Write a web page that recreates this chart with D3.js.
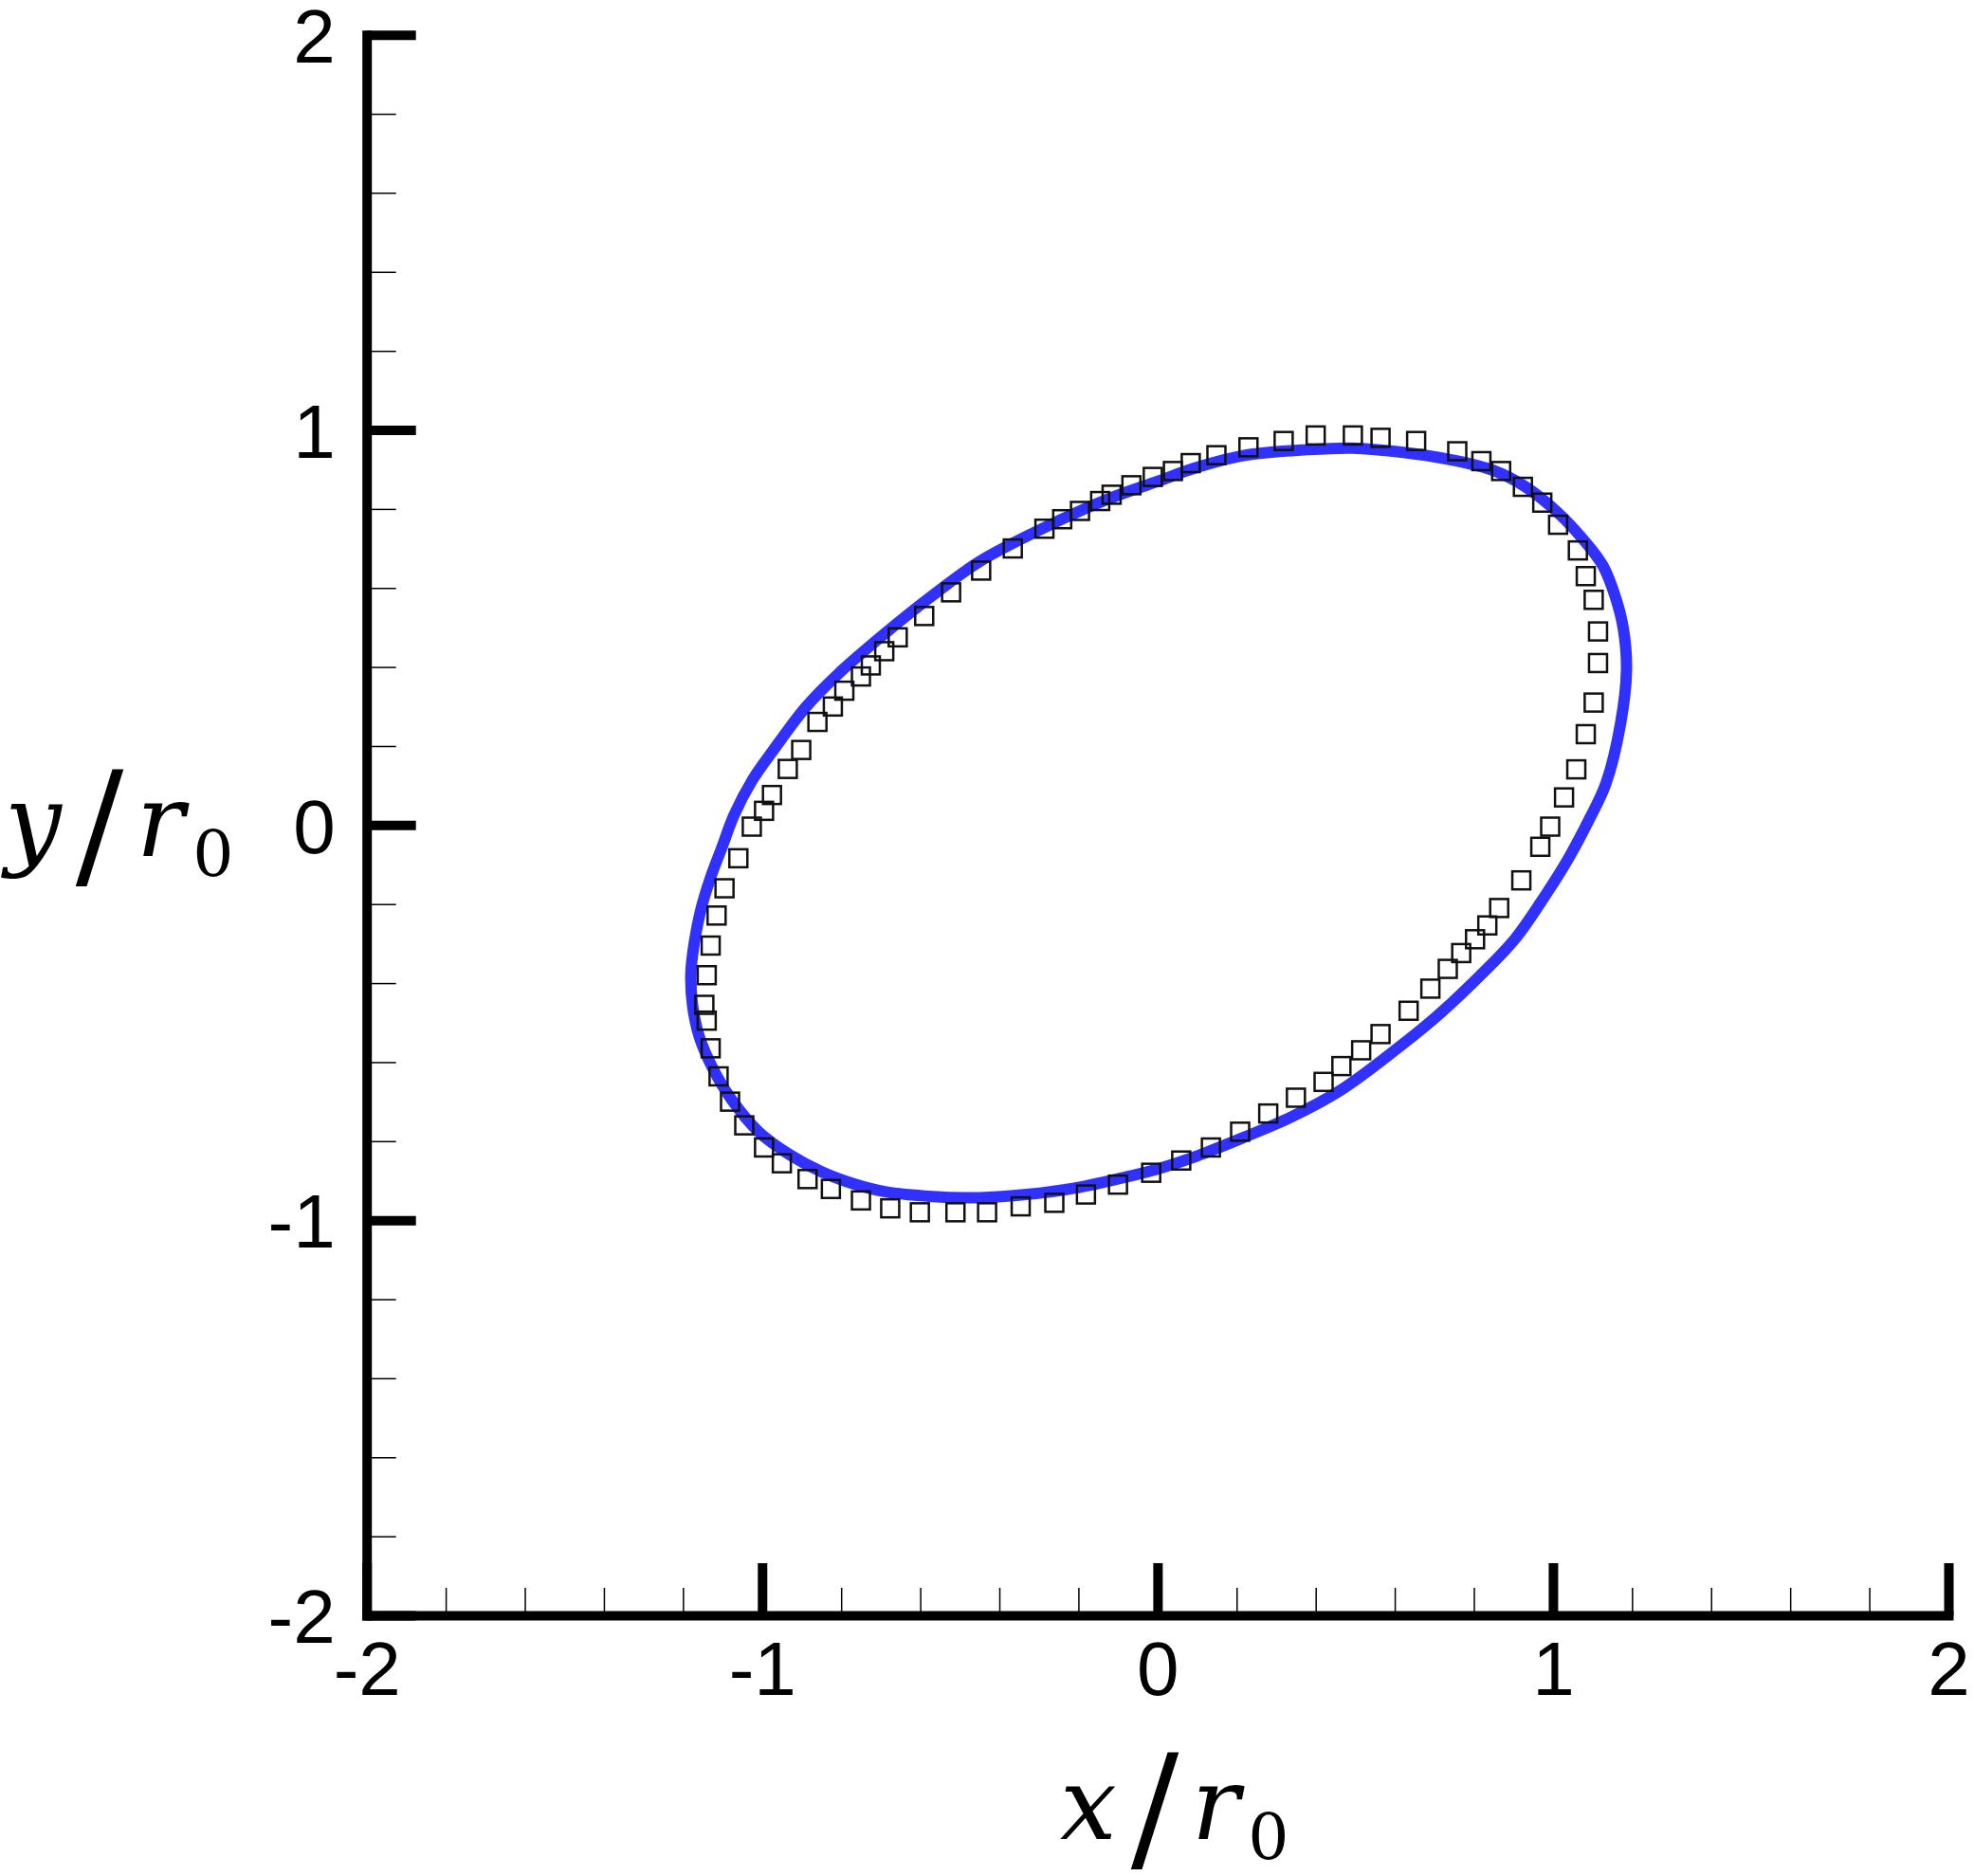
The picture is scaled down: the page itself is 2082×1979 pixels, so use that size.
<!DOCTYPE html>
<html>
<head>
<meta charset="utf-8">
<script src="https://cdn.jsdelivr.net/npm/d3@7"></script>
<style>
  body { margin: 0; background: #fff; }
  svg { display: block; }
</style>
</head>
<body>
<svg class="graph-container" width="2082" height="1979"></svg>
<script>
// blue curve (computed interface), in x/r0 , y/r0
var curveX = [-0.002,-0.130,-0.290,-0.450,-0.570,-0.689,-0.809,-0.889,-0.969,-1.025,-1.071,-1.101,-1.131,-1.155,-1.171,-1.180,-1.176,-1.159,-1.125,-1.077,-1.009,-0.929,-0.849,-0.769,-0.689,-0.570,-0.450,-0.330,-0.210,-0.090,-0.002,0.096,0.217,0.338,0.460,0.581,0.703,0.824,0.905,0.980,1.040,1.093,1.134,1.171,1.186,1.178,1.158,1.126,1.078,1.010,0.929,0.853,0.749,0.622,0.492,0.378,0.217,0.096];
var curveY = [0.869,0.823,0.751,0.667,0.580,0.485,0.381,0.299,0.193,0.113,0.025,-0.055,-0.135,-0.215,-0.295,-0.375,-0.455,-0.535,-0.615,-0.695,-0.776,-0.835,-0.878,-0.908,-0.928,-0.940,-0.943,-0.935,-0.919,-0.893,-0.871,-0.839,-0.791,-0.739,-0.673,-0.585,-0.487,-0.373,-0.287,-0.179,-0.083,0.017,0.105,0.257,0.393,0.497,0.577,0.657,0.721,0.793,0.857,0.896,0.923,0.943,0.954,0.950,0.935,0.904];

// square markers (experiment)
var expX = [-0.012,-0.066,-0.116,-0.145,-0.196,-0.241,-0.286,-0.366,-0.446,-0.522,
  -0.590,-0.657,-0.691,-0.725,-0.750,-0.792,-0.821,-0.860,-0.901,-0.935,
  -0.975,-0.995,-1.026,-1.060,-1.095,-1.115,-1.130,-1.140,-1.146,-1.140,
  -1.130,-1.110,-1.081,-1.045,-0.995,-0.950,-0.885,-0.826,-0.750,-0.676,
  -0.601,-0.511,-0.431,-0.346,-0.261,-0.181,-0.100,-0.016,0.060,0.135,
  0.209,0.280,0.350,0.420,0.465,0.515,0.564,0.635,0.690,0.734,
  0.768,0.803,0.834,0.864,0.920,0.968,0.993,1.028,1.059,1.083,
  1.103,1.114,1.114,1.103,1.083,1.063,1.013,0.973,0.924,0.869,
  0.819,0.758,0.654,0.564,0.494,0.400,0.319,0.230,0.149,0.084,
  0.039];
var expY = [0.881,0.860,0.836,0.820,0.795,0.774,0.750,0.700,0.644,0.589,
  0.529,0.475,0.440,0.404,0.376,0.340,0.300,0.261,0.190,0.142,
  0.076,0.036,-0.004,-0.084,-0.160,-0.229,-0.305,-0.380,-0.455,-0.495,
  -0.565,-0.636,-0.700,-0.760,-0.816,-0.856,-0.896,-0.921,-0.950,-0.970,
  -0.980,-0.980,-0.980,-0.965,-0.956,-0.935,-0.910,-0.880,-0.849,-0.816,
  -0.776,-0.730,-0.690,-0.650,-0.610,-0.570,-0.529,-0.470,-0.414,-0.364,
  -0.324,-0.289,-0.254,-0.210,-0.140,-0.055,-0.004,0.070,0.141,0.230,
  0.310,0.410,0.490,0.570,0.630,0.695,0.760,0.816,0.856,0.896,
  0.921,0.946,0.972,0.980,0.986,0.986,0.972,0.956,0.936,0.916,
  0.896];

var majorTicks = [-2, -1, 0, 1, 2];
var minorTicks = [-1.8,-1.6,-1.4,-1.2,-0.8,-0.6,-0.4,-0.2,0.2,0.4,0.6,0.8,1.2,1.4,1.6,1.8];

var svg = d3.select(".graph-container");

var x = d3.scaleLinear().domain([-2, 2]).range([386.7, 2055]);
var y = d3.scaleLinear().domain([-2, 2]).range([1704, 36.7]);

var curve = curveX.map(function(d, i){ return {x: d, y: curveY[i]}; });
var points = expX.map(function(d, i){ return {x: d, y: expY[i]}; });

var line = d3.line()
  .x(function(d){ return x(d.x); })
  .y(function(d){ return y(d.y); })
  .curve(d3.curveCatmullRomClosed);

svg.append("path")
  .datum(curve)
  .attr("fill", "none")
  .attr("stroke", "#3030ff")
  .attr("stroke-width", 12)
  .attr("stroke-linejoin", "round")
  .attr("d", line);

var sq = 19;
svg.append("g").selectAll("rect")
  .data(points)
  .enter().append("rect")
  .attr("x", function(d){ return x(d.x) - sq / 2; })
  .attr("y", function(d){ return y(d.y) - sq / 2; })
  .attr("width", sq)
  .attr("height", sq)
  .attr("fill", "none")
  .attr("stroke", "#111")
  .attr("stroke-width", 2.5);

// minor ticks
svg.append("g")
  .attr("transform", "translate(" + x(-2) + ",0)")
  .call(d3.axisLeft(y).tickValues(minorTicks).tickSize(-31).tickFormat(""))
  .call(function(g){ g.select(".domain").remove(); g.selectAll("line").attr("stroke", "#000").attr("stroke-width", 1.5); });

svg.append("g")
  .attr("transform", "translate(0," + y(-2) + ")")
  .call(d3.axisBottom(x).tickValues(minorTicks).tickSize(-29).tickFormat(""))
  .call(function(g){ g.select(".domain").remove(); g.selectAll("line").attr("stroke", "#000").attr("stroke-width", 1.5); });

// major ticks + labels
var yAxis = svg.append("g")
  .attr("transform", "translate(" + x(-2) + ",0)")
  .call(d3.axisLeft(y).tickValues(majorTicks).tickSize(-52).tickSizeOuter(0).tickPadding(33)
    .tickFormat(function(d){ return String(d); }));

var xAxis = svg.append("g")
  .attr("transform", "translate(0," + y(-2) + ")")
  .call(d3.axisBottom(x).tickValues(majorTicks).tickSize(-55).tickSizeOuter(0).tickPadding(27)
    .tickFormat(function(d){ return String(d); }));

[yAxis, xAxis].forEach(function(g){
  g.select(".domain").attr("stroke", "#000").attr("stroke-width", 10).attr("stroke-linecap", "square");
  g.selectAll(".tick line").attr("stroke", "#000").attr("stroke-width", 10);
  g.selectAll(".tick text")
    .attr("fill", "#000")
    .style("font-family", "'Liberation Sans', Arial, Helvetica, sans-serif")
    .style("font-size", "80px");
});
yAxis.selectAll(".tick text").attr("dy", "0.36em");

// axis titles, glyph by glyph (centres measured from the left edge of the title)
function title(x0, base, v){
  var t = svg.append("text")
    .attr("y", base)
    .attr("text-anchor", "middle")
    .attr("font-family", "'DejaVu Serif', serif")
    .attr("fill", "#000");
  t.append("tspan").attr("x", x0 + 31).style("font-style", "italic").style("font-size", "106px").text(v);
  t.append("tspan").attr("x", x0 + 101).attr("dy", 18).style("font-size", "150px").text("/");
  t.append("tspan").attr("x", x0 + 165).attr("dy", -18).style("font-style", "italic").style("font-size", "106px").text("r");
  t.append("tspan").attr("x", x0 + 221).attr("dy", 21).style("font-size", "68px").text("0");
}
title(1117, 1940, "x");
title(4, 903, "y");
</script>
</body>
</html>
